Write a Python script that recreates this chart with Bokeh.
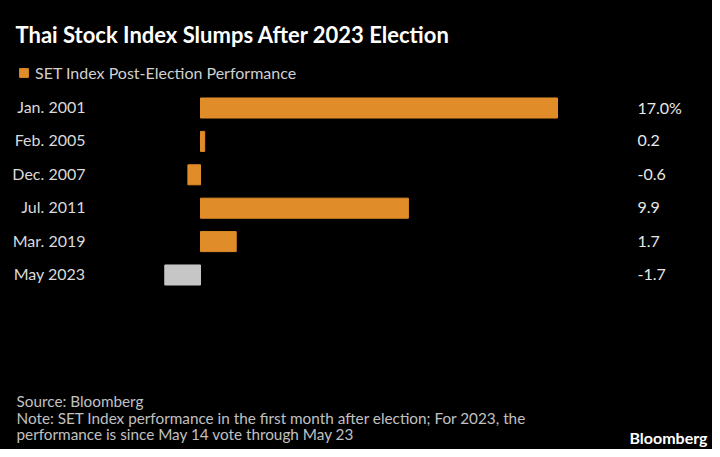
from bokeh.plotting import figure
from bokeh.layouts import column
from bokeh.models import (ColumnDataSource, FactorRange, Range1d, Label,
                          Legend, LegendItem)
from bokeh.core.properties import value
from bokeh.embed import file_html
from bokeh.resources import INLINE

# ---- data ----
categories = ["Jan. 2001", "Feb. 2005", "Dec. 2007", "Jul. 2011", "Mar. 2019", "May 2023"]
performance = [17.0, 0.2, -0.6, 9.9, 1.7, -1.7]
value_labels = ["17.0%", "0.2", "-0.6", "9.9", "1.7", "-1.7"]
highlight = "May 2023"

title_text = "Thai Stock Index Slumps After 2023 Election"
legend_text = "SET Index Post-Election Performance"
footer_lines = [
    "Source: Bloomberg",
    "Note: SET Index performance in the first month after election; For 2023, the",
    "performance is since May 14 vote through May 23",
]

# ---- layout helpers (pixel geometry of the canvas) ----
W, H = 712, 449
TOP_H = 382
ZERO_PX, PX_PER_UNIT = 200, 21.0
ROW_PX = 33.4
FONT = "Lato"
ORANGE, GREY = "#E08C28", "#C6C6C6"
BLACK_BG = {"background-color": "black"}


def xdat(px):
    return (px - ZERO_PX) / PX_PER_UNIT


def ydat(py):
    return len(categories) / 2 - (py - TOP_H / 2) / ROW_PX


def style(fig):
    fig.background_fill_color = "black"
    fig.border_fill_color = "black"
    fig.outline_line_color = None
    fig.grid.visible = False
    fig.styles = BLACK_BG


colors = [GREY if c == highlight else ORANGE for c in categories]
source = ColumnDataSource(dict(cat=categories, perf=performance,
                               lab=value_labels, color=colors))

# ---- chart ----
p = figure(width=W, height=TOP_H, output_backend="svg", toolbar_location=None,
           title=None,
           x_range=Range1d(xdat(0), xdat(W)),
           y_range=FactorRange(factors=categories[::-1],
                               range_padding=(TOP_H / ROW_PX - len(categories)) / 2,
                               range_padding_units="absolute"),
           x_axis_location=None, y_axis_location=None,
           min_border=0)
style(p)

bars = p.hbar(y="cat", left=0, right="perf", height=0.6, color="color",
              source=source)

# category labels
p.text(x=xdat(85), y="cat", text="cat", source=source, text_align="right",
       text_baseline="middle", y_offset=-1.5, text_font=value(FONT),
       text_font_size="16px", text_color="#DADADA")
# value labels
p.text(x=xdat(637), y="cat", text="lab", source=source, text_align="left",
       text_baseline="middle", y_offset=-0.5, text_font=value(FONT),
       text_font_size="16px", text_color="#E8E8E8")

# title
p.add_layout(Label(x=xdat(15), y=ydat(33.5), text=title_text,
                   text_font=FONT, text_font_size="22px", text_font_style="bold",
                   text_color="white", text_baseline="middle"))

# legend
legend = Legend(items=[LegendItem(label=legend_text, renderers=[bars], index=0)],
                location=(18, 300), orientation="horizontal",
                glyph_width=11, glyph_height=11, label_height=11,
                label_standoff=6, padding=0, margin=0, spacing=0,
                label_text_font=FONT, label_text_font_size="16px",
                label_text_color="#D0D0D0",
                background_fill_alpha=0, border_line_color=None)
p.add_layout(legend)

# ---- footer (data coordinates equal page pixels) ----
f = figure(width=W, height=H - TOP_H, output_backend="svg", toolbar_location=None,
           title=None, x_range=Range1d(0, W), y_range=Range1d(H, TOP_H),
           x_axis_location=None, y_axis_location=None, min_border=0)
style(f)
for i, line in enumerate(footer_lines):
    f.add_layout(Label(x=16, y=400.5 + 16.6 * i, text=line,
                       text_font=FONT, text_font_size="15.3px",
                       text_color="#C0C0C0", text_baseline="middle"))
f.add_layout(Label(x=707, y=436.5, text="Bloomberg",
                   text_font=FONT, text_font_size="16px", text_font_style="bold",
                   text_color="white", text_align="right", text_baseline="middle"))

layout = column(p, f, spacing=0, styles=BLACK_BG)
open("out.html", "w").write(file_html(layout, INLINE))
